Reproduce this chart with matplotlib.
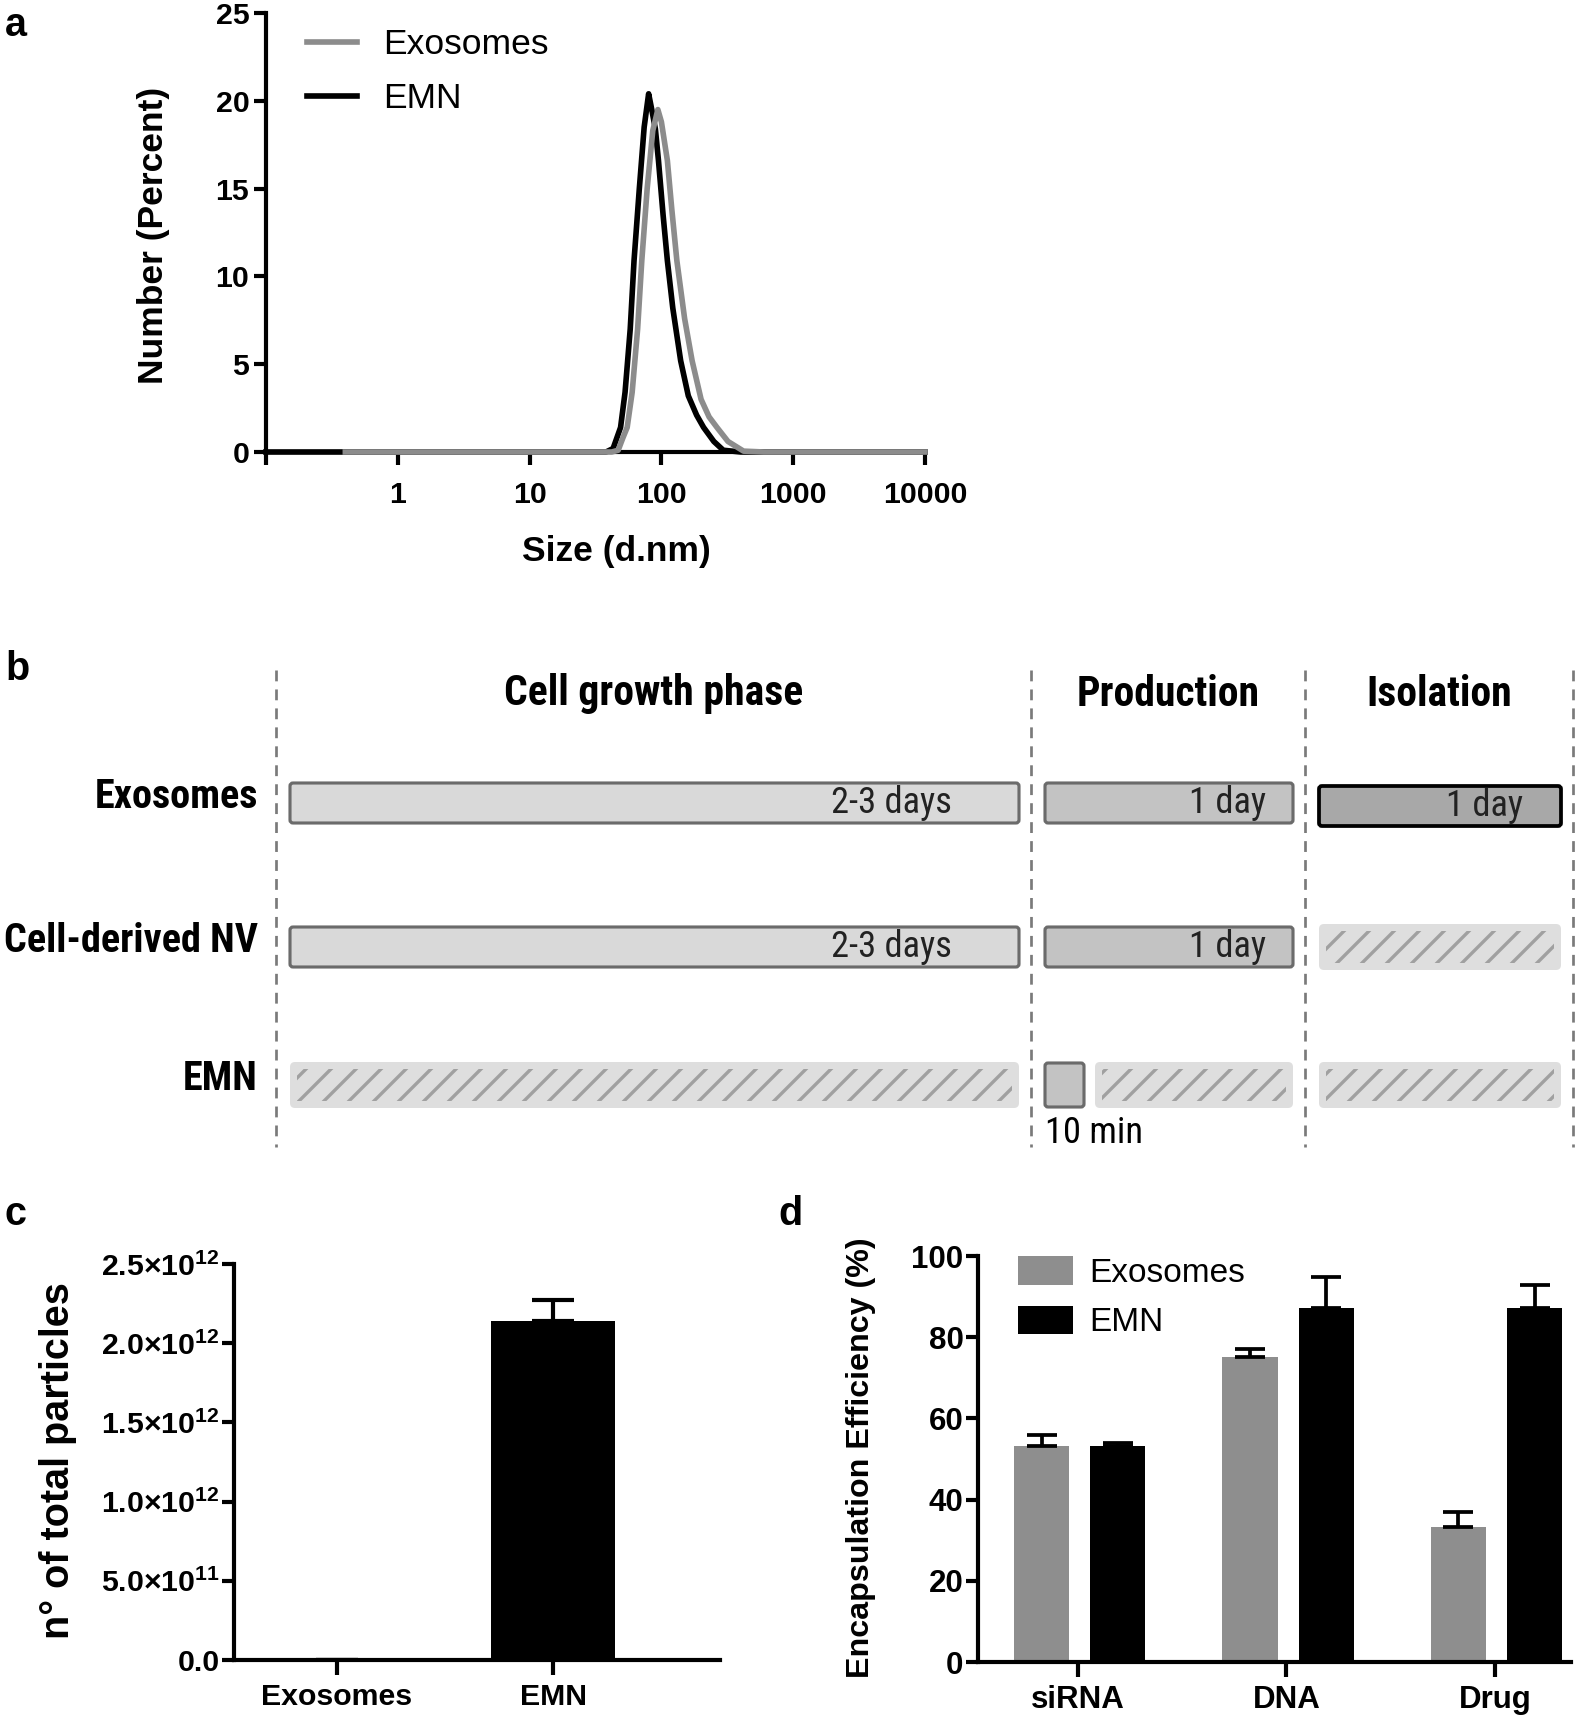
import matplotlib
matplotlib.use("Agg")
import matplotlib.pyplot as plt
from matplotlib import font_manager
from matplotlib.patches import FancyBboxPatch, Patch
from matplotlib.lines import Line2D

# ---- data ----
# a: size distribution (number %)
emn_size = [0.1, 0.4, 10, 38, 43, 49, 53, 58, 62, 68, 74, 80, 84, 90, 95, 103, 111,
            122, 140, 160, 185, 209, 250, 295, 400, 1000, 10000]
emn_pct = [0, 0, 0, 0, 0.2, 1.4, 3.4, 7.0, 10.9, 15.0, 18.5, 20.4, 19.6, 18.4, 16.6,
           13.5, 10.9, 8.2, 5.2, 3.2, 2.1, 1.4, 0.6, 0.1, 0, 0, 0]
exo_size = [0.4, 10, 42, 47, 51, 55, 60, 66, 71, 78, 86, 94, 100, 111, 120, 131,
            150, 171, 200, 230, 264, 320, 420, 600, 10000]
exo_pct = [0, 0, 0, 0.1, 0.8, 1.4, 3.4, 7.0, 10.9, 15.0, 18.3, 19.5, 18.8, 16.6,
           13.8, 10.9, 7.6, 5.2, 3.0, 2.0, 1.4, 0.6, 0.05, 0, 0]
size_ticks = [0.1, 1, 10, 100, 1000, 10000]
size_ticklabels = ['', '1', '10', '100', '1000', '10000']

# b: production timeline
phases = ['Cell growth phase', 'Production', 'Isolation']
methods = ['Exosomes', 'Cell-derived NV', 'EMN']
exo_steps = ['2-3 days', '1 day', '1 day']
nv_steps = ['2-3 days', '1 day', None]
emn_steps = [None, '10 min', None]

# c: particle yield
yield_groups = ['Exosomes', 'EMN']
yield_mean = [0, 2.14e12]
yield_sem = [0, 0.13e12]
yield_ticks = [0, 0.5e12, 1.0e12, 1.5e12, 2.0e12, 2.5e12]
yield_ticklabels = ['0.0', '5.0×10$^{11}$', '1.0×10$^{12}$', '1.5×10$^{12}$',
                    '2.0×10$^{12}$', '2.5×10$^{12}$']

# d: encapsulation efficiency
cargo = ['siRNA', 'DNA', 'Drug']
ee_exo = [53.2, 75.2, 33.3]
ee_exo_err = [2.8, 1.8, 3.6]
ee_emn = [53.1, 87.2, 87.2]
ee_emn_err = [0.9, 7.6, 5.6]

# ---- setup ----
W, H, DPI = 1595, 1717, 150
fonts = font_manager.fontManager.ttflist
names = {f.name for f in fonts}
SANS = 'Liberation Sans' if 'Liberation Sans' in names else 'DejaVu Sans'
NARROW, NSCALE = SANS, 0.83
for cand in ['Liberation Sans Narrow', 'Roboto Condensed', 'Open Sans Condensed',
             'DejaVu Sans Condensed']:
    if cand in names:
        NARROW, NSCALE = cand, 1.0
        break
plt.rcParams['font.family'] = SANS
plt.rcParams['mathtext.default'] = 'regular'
plt.rcParams['hatch.linewidth'] = 1.6

fig = plt.figure(figsize=(W / DPI, H / DPI), dpi=DPI)


def px_rect(l, t, r, b):
    return [l / W, 1 - b / H, (r - l) / W, (b - t) / H]


def style_axes(ax):
    for s in ['top', 'right']:
        ax.spines[s].set_visible(False)
    for s in ['left', 'bottom']:
        ax.spines[s].set_linewidth(2.0)
    ax.tick_params(width=2.0, length=6, direction='out')


def label_coords(ax, rect, px, py):
    l, t, r, b = rect
    return (px - l) / (r - l), (b - py) / (b - t)


# ---- panel a ----
ra = (266, 13, 925, 452)
ax = fig.add_axes(px_rect(*ra))
style_axes(ax)
ax.plot(emn_size, emn_pct, color='black', lw=2.7, clip_on=False, zorder=3)
ax.plot(exo_size, exo_pct, color='#8c8c8c', lw=2.7, clip_on=False, zorder=4)
ax.set_xscale('log')
ax.set_xlim(0.1, 10000)
ax.set_ylim(0, 25)
ax.set_xticks(size_ticks)
ax.set_xticklabels(size_ticklabels)
ax.minorticks_off()
ax.set_yticks([0, 5, 10, 15, 20, 25])
ax.tick_params(labelsize=14.5, pad=2)
ax.tick_params(axis='x', pad=8)
for t in ax.get_xticklabels() + ax.get_yticklabels():
    t.set_fontweight('bold')
ax.set_ylabel('Number (Percent)', fontsize=17, fontweight='bold')
ax.yaxis.set_label_coords(*label_coords(ax, ra, 170, 235))
ax.set_xlabel('Size (d.nm)', fontsize=17, fontweight='bold')
ax.xaxis.set_label_coords(*label_coords(ax, ra, 616, 535))
h = [Line2D([], [], color='#8c8c8c', lw=2.7), Line2D([], [], color='black', lw=2.7)]
ax.legend(h, ['Exosomes', 'EMN'], loc='upper left', frameon=False, fontsize=17,
          bbox_to_anchor=(307 / W, 1 - 28 / H), bbox_transform=fig.transFigure,
          borderpad=0, borderaxespad=0, handlelength=1.4, handletextpad=0.75,
          labelspacing=0.6)

# ---- panel b ----
rb = (0, 640, W, 1160)
axb = fig.add_axes(px_rect(*rb))
axb.set_xlim(0, W)
axb.set_ylim(rb[3], rb[1])
axb.axis('off')
bounds = [276, 1031, 1305, 1573]
row_y = [803, 947, 1085]
shades = ['#d9d9d9', '#c3c3c3', '#a8a8a8']
for x in bounds:
    axb.plot([x, x], [670, 1147], color='#7a7a7a', lw=1.3, ls=(0, (4, 3)))
for i, name in enumerate(phases):
    axb.text((bounds[i] + bounds[i + 1]) / 2, 694, name, ha='center', va='center',
             fontsize=20 * NSCALE, fontweight='bold', family=NARROW)


def hatched(x0, x1, yc, hh=23):
    axb.add_patch(FancyBboxPatch((x0, yc - hh), x1 - x0, 2 * hh,
                                 boxstyle='round,pad=0,rounding_size=5',
                                 facecolor='#dedede', edgecolor='none'))
    axb.add_patch(FancyBboxPatch((x0 + 7, yc - hh + 7), x1 - x0 - 14, 2 * hh - 14,
                                 boxstyle='square,pad=0', facecolor='none',
                                 edgecolor='#a0a0a0', lw=0, hatch='//'))


def solid(x0, x1, yc, shade, edge='#6b6b6b', lw=1.5, hh=20):
    axb.add_patch(FancyBboxPatch((x0, yc - hh), x1 - x0, 2 * hh,
                                 boxstyle='round,pad=0,rounding_size=3',
                                 facecolor=shade, edgecolor=edge, lw=lw))


text_gap = [67, 27, 38]
for r, (name, steps) in enumerate(zip(methods, [exo_steps, nv_steps, emn_steps])):
    yc = row_y[r]
    axb.text(258, yc - 6, name, ha='right', va='center', fontsize=19.3 * NSCALE,
             fontweight='bold', family=NARROW)
    for i, step in enumerate(steps):
        x0, x1 = bounds[i] + 14, bounds[i + 1] - 12
        if step is None:
            hatched(x0, x1, yc)
        elif step == '10 min':
            solid(x0, x0 + 39, yc, shades[1], hh=22)
            hatched(x0 + 50, x1, yc)
            axb.text(x0, yc + 48, step, ha='left', va='center', fontsize=17.5 * NSCALE,
                     family=NARROW)
        else:
            iso = (i == 2)
            solid(x0, x1, yc + (3 if iso else 0), shades[i],
                  edge='black' if iso else '#6b6b6b', lw=1.8 if iso else 1.5)
            axb.text(x1 - text_gap[i], yc + (3 if iso else 0), step, ha='right',
                     va='center', fontsize=17.5 * NSCALE, family=NARROW,
                     color='#222222')

# ---- panel c ----
rc = (234, 1264, 720, 1660)
ax = fig.add_axes(px_rect(*rc))
style_axes(ax)
xs = range(len(yield_groups))
ax.bar(xs, yield_mean, width=0.574, color='black', zorder=2)
ax.errorbar(xs, yield_mean, yerr=[[0] * len(xs), yield_sem], fmt='none',
            ecolor='black', elinewidth=2.0, capsize=10, capthick=2.0, zorder=3)
ax.set_xlim(-0.477, 1.773)
ax.set_ylim(0, 2.5e12)
ax.set_xticks(list(xs))
ax.set_xticklabels(yield_groups, fontsize=14.5, fontweight='bold')
ax.set_yticks(yield_ticks)
ax.set_yticklabels(yield_ticklabels, fontsize=14.5, fontweight='bold')
ax.tick_params(axis='x', length=7, pad=4)
ax.tick_params(axis='y', pad=1)
ax.set_ylabel('n° of total particles', fontsize=19, fontweight='bold')
ax.yaxis.set_label_coords(*label_coords(ax, rc, 77, 1461))

# ---- panel d ----
rd = (978, 1256, 1571, 1662)
ax = fig.add_axes(px_rect(*rd))
style_axes(ax)
xs = list(range(len(cargo)))
off_exo, off_emn, bw = -0.175, 0.19, 0.264
xe = [x + off_exo for x in xs]
xm = [x + off_emn for x in xs]
ax.bar(xe, ee_exo, width=bw, color='#8e8e8e', zorder=2)
ax.bar(xm, ee_emn, width=bw, color='black', zorder=2)
ax.errorbar(xe, ee_exo, yerr=[[0] * 3, ee_exo_err], fmt='none', ecolor='black',
            elinewidth=1.8, capsize=7, capthick=1.8, zorder=3)
ax.errorbar(xm, ee_emn, yerr=[[0] * 3, ee_emn_err], fmt='none', ecolor='black',
            elinewidth=1.8, capsize=7, capthick=1.8, zorder=3)
ax.set_xlim(-0.48, 2.365)
ax.set_ylim(0, 100)
ax.set_yticks([0, 20, 40, 60, 80, 100])
ax.set_xticks(xs)
ax.set_xticklabels(cargo)
ax.tick_params(labelsize=15, pad=1)
ax.tick_params(axis='x', length=7, pad=4)
for t in ax.get_xticklabels() + ax.get_yticklabels():
    t.set_fontweight('bold')
ax.set_ylabel('Encapsulation Efficiency (%)', fontsize=15.5, fontweight='bold')
ax.yaxis.set_label_coords(*label_coords(ax, rd, 876, 1458))
h = [Patch(facecolor='#8e8e8e'), Patch(facecolor='black')]
ax.legend(h, ['Exosomes', 'EMN'], loc='upper left', frameon=False, fontsize=16,
          bbox_to_anchor=(1018 / W, 1 - 1256 / H), bbox_transform=fig.transFigure,
          borderpad=0, borderaxespad=0, handlelength=1.65, handleheight=0.95,
          handletextpad=0.5, labelspacing=0.5)

# ---- panel letters ----
for letter, x, y in [('a', 5, 6), ('b', 5, 650), ('c', 5, 1195), ('d', 778, 1195)]:
    fig.text(x / W, 1 - y / H, letter, fontsize=19, fontweight='bold', ha='left', va='top')

fig.savefig('out.png', dpi=DPI)
